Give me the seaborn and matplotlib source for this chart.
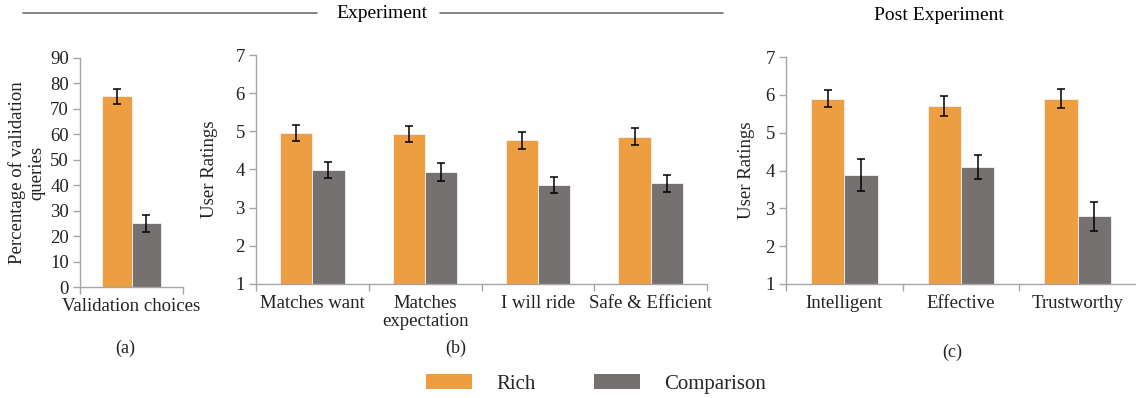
import numpy as np
import pandas as pd
import matplotlib
matplotlib.use("Agg")
import matplotlib.pyplot as plt
from matplotlib.lines import Line2D
from matplotlib.patches import Patch
import seaborn as sns

# ---- data -------------------------------------------------------------
groups = ["Rich", "Comparison"]

val_categories = ["Validation choices"]
val_rich = [75.0]
val_comp = [25.0]
val_rich_err = [3.0]
val_comp_err = [3.2]

exp_categories = ["Matches want", "Matches\nexpectation", "I will ride", "Safe & Efficient"]
exp_rich = [4.96, 4.93, 4.76, 4.86]
exp_comp = [3.98, 3.94, 3.60, 3.64]
exp_rich_err = [0.21, 0.22, 0.23, 0.23]
exp_comp_err = [0.21, 0.23, 0.21, 0.22]

post_categories = ["Intelligent", "Effective", "Trustworthy"]
post_rich = [5.90, 5.70, 5.90]
post_comp = [3.89, 4.09, 2.79]
post_rich_err = [0.22, 0.27, 0.25]
post_comp_err = [0.42, 0.32, 0.38]

# ---- style ------------------------------------------------------------
sns.set_theme(style="white")
plt.rcParams["font.family"] = ["Liberation Serif", "DejaVu Serif"]
ORANGE = "#ED9E40"
GRAY = "#767171"
SPINE = "#A6A6A6"
TEXT = "#222222"
FS = 13.5
palette = {"Rich": ORANGE, "Comparison": GRAY}

W, H, DPI = 1136, 398, 100
fig = plt.figure(figsize=(W / DPI, H / DPI), dpi=DPI)


def px_axes(left, right, top, bottom):
    return fig.add_axes([left / W, 1 - bottom / H, (right - left) / W, (bottom - top) / H])


def long_frame(cats, rich, comp, rich_err, comp_err):
    rows = []
    for c, v, e in zip(cats, rich, rich_err):
        rows.append({"category": c, "group": "Rich", "value": v, "err": e})
    for c, v, e in zip(cats, comp, comp_err):
        rows.append({"category": c, "group": "Comparison", "value": v, "err": e})
    return pd.DataFrame(rows)


def panel(ax, df, cats, ylim, yticks, ylabel, end_tick=True):
    sns.barplot(data=df, x="category", y="value", hue="group", order=cats,
                hue_order=groups, palette=palette, width=0.57, gap=0,
                saturation=1, errorbar=None, edgecolor="#f3f3f3", linewidth=0.6,
                legend=False, ax=ax)
    # error bars placed on the centres of the drawn bars
    for container, g in zip(ax.containers, groups):
        sub = df[df["group"] == g].set_index("category").loc[cats]
        xs = [p.get_x() + p.get_width() / 2 for p in container.patches]
        ax.errorbar(xs, sub["value"].values, yerr=sub["err"].values, fmt="none",
                    ecolor="black", elinewidth=1.1, capsize=3, capthick=1.1, zorder=5)
    n = len(cats)
    ax.set_xlim(-0.5, n - 0.5)
    ax.set_ylim(*ylim)
    ax.set_yticks(yticks)
    ax.set_yticklabels([str(t) for t in yticks])
    bounds = np.arange(n + 1) - 0.5 if end_tick else np.arange(n) - 0.5
    ax.set_xticks(bounds)
    ax.set_xticklabels([])
    ax.set_xticks(np.arange(n), cats, minor=True)
    ax.tick_params(axis="x", which="major", length=5, width=1, color=SPINE, direction="out")
    ax.tick_params(axis="x", which="minor", length=0, pad=8, labelsize=FS, labelcolor=TEXT)
    ax.tick_params(axis="y", length=5, width=1, color=SPINE, direction="out",
                   labelsize=FS, labelcolor=TEXT, pad=3)
    ax.tick_params(left=True, bottom=True)
    for s in ["top", "right"]:
        ax.spines[s].set_visible(False)
    for s in ["left", "bottom"]:
        ax.spines[s].set_color(SPINE)
        ax.spines[s].set_linewidth(1.0)
    ax.set_xlabel("")
    ax.set_ylabel(ylabel, fontsize=FS, color=TEXT, labelpad=4)
    for lbl in ax.get_xticklabels(minor=True):
        lbl.set_linespacing(1.1)


# (a)
ax_a = px_axes(80, 183, 58, 287)
panel(ax_a, long_frame(val_categories, val_rich, val_comp, val_rich_err, val_comp_err),
      val_categories, (0, 90), list(range(0, 91, 10)),
      "Percentage of validation\nqueries")
ax_a.yaxis.label.set_linespacing(1.2)
ax_a.yaxis.set_label_coords(-0.335, 0.5)

# (b)
ax_b = px_axes(256, 707, 55, 284)
panel(ax_b, long_frame(exp_categories, exp_rich, exp_comp, exp_rich_err, exp_comp_err),
      exp_categories, (1, 7), list(range(1, 8)), "User Ratings")
ax_b.yaxis.set_label_coords(-0.084, 0.5)

# (c)
ax_c = px_axes(786, 1136, 57, 284)
panel(ax_c, long_frame(post_categories, post_rich, post_comp, post_rich_err, post_comp_err),
      post_categories, (1, 7), list(range(1, 8)), "User Ratings", end_tick=False)
ax_c.yaxis.set_label_coords(-0.089, 0.5)

# ---- section headers --------------------------------------------------
def fx(x):
    return x / W


def fy(y):
    return 1 - y / H


hdr_kw = dict(color="#707070", linewidth=1.2, transform=fig.transFigure)
fig.add_artist(Line2D([fx(23), fx(317)], [fy(13), fy(13)], **hdr_kw))
fig.add_artist(Line2D([fx(440), fx(723)], [fy(13), fy(13)], **hdr_kw))
fig.text(fx(382), fy(13), "Experiment", ha="center", va="center", fontsize=14, color="black")
fig.text(fx(939), fy(15), "Post Experiment", ha="center", va="center", fontsize=14, color="black")

# ---- sub-figure labels -------------------------------------------------
fig.text(fx(125), fy(348), "(a)", ha="center", va="center", fontsize=13, color=TEXT)
fig.text(fx(456), fy(348), "(b)", ha="center", va="center", fontsize=13, color=TEXT)
fig.text(fx(952), fy(352), "(c)", ha="center", va="center", fontsize=13, color=TEXT)

# ---- legend -----------------------------------------------------------
handles = [Patch(facecolor=palette[g], edgecolor="none", label=g) for g in groups]
fig.legend(handles=handles, loc="center", bbox_to_anchor=(fx(596), fy(384)),
           ncol=2, frameon=False, fontsize=15, handlelength=2.2, handleheight=0.7,
           handletextpad=1.15, columnspacing=2.8, borderaxespad=0)

fig.savefig("out.png", dpi=DPI)
